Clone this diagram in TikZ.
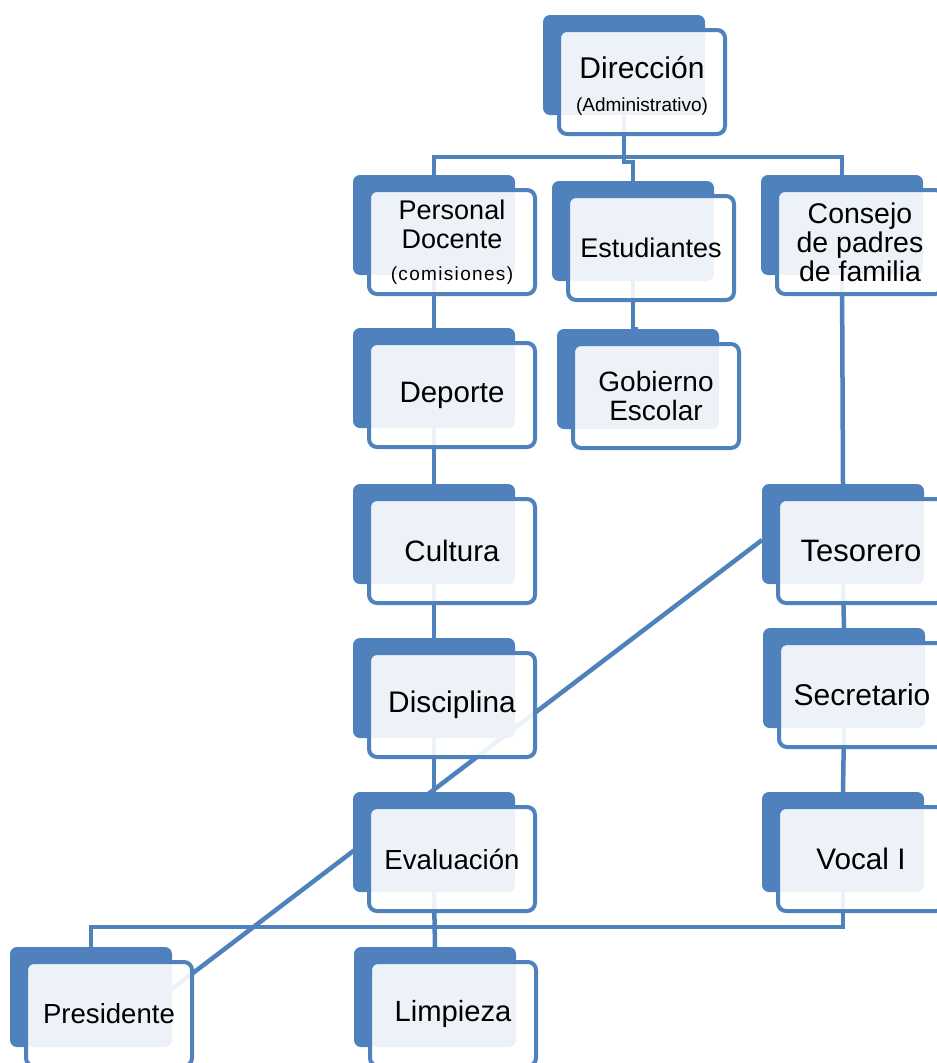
\documentclass[tikz,border=0pt]{standalone}
\usepackage{fontspec}
\setmainfont{Liberation Sans}
\usetikzlibrary{calc}
\definecolor{bl}{HTML}{4F81BD}
\pgfdeclarelayer{bg}
\pgfsetlayers{bg,main}
\newcommand\orgbox[5]{%
  \node[backbox] (#1b) at (#2,#3) {};
  \node[frontbox, font=\fontsize{#4}{29}\selectfont] (#1) at (#2+16,#3+15) {#5};}
\newcommand\smalltxt{\fontsize{19}{22}\selectfont}
\begin{document}
\begin{tikzpicture}[x=1pt,y=-1pt,
  backbox/.style={fill=bl, rounded corners=7pt, minimum width=162pt, minimum height=100pt,
    inner sep=0pt, outer sep=0pt, anchor=north west},
  frontbox/.style={draw=bl, line width=4pt, fill=white, fill opacity=0.9, text opacity=1,
    rounded corners=8pt, minimum width=166pt, minimum height=104pt, inner sep=0pt,
    outer sep=0pt, align=center, anchor=north west},
  conn/.style={draw=bl, line width=4.5pt}]
\useasboundingbox (0,0) rectangle (937,1063);

\orgbox{dir}{543}{15}{30}{\rule{0pt}{30pt}Dirección\\[4pt]{\smalltxt (Administrativo)}}
\orgbox{pd}{353}{175}{27}{Personal\\Docente\\[3pt]{\smalltxt\addfontfeatures{LetterSpace=7}(comisiones)}}
\orgbox{est}{552}{181}{27}{Estudiantes}
\orgbox{gob}{557}{329}{28}{Gobierno\\Escolar}
\orgbox{con}{761}{175}{28.5}{Consejo\\de padres\\de familia}
\orgbox{dep}{353}{328}{29.5}{Deporte}
\orgbox{cul}{353}{484}{29.5}{Cultura}
\orgbox{dis}{353}{638}{29.8}{Disciplina}
\orgbox{eva}{353}{792}{27.6}{Evaluación}
\orgbox{tes}{762}{484}{31}{Tesorero}
\orgbox{sec}{763}{628}{30}{Secretario}
\orgbox{voc}{762}{792}{29.7}{Vocal I}
\orgbox{pre}{10}{947}{27.6}{Presidente}
\orgbox{lim}{354}{947}{29.2}{Limpieza}

\begin{pgfonlayer}{bg}
  \fill[white] (0,0) rectangle (937,1063);
  \coordinate (hub) at (0,157);
  \coordinate (low) at (0,927);
  \draw[conn] (dirb.south) -- (dirb.south |- hub) -| (pdb.north);
  \draw[conn] (dirb.south) -- (dirb.south |- hub) -| (conb.north);
  \draw[conn] (dirb.south) -- ($(dirb.south |- hub)+(0,5)$) -| (estb.north);
  \draw[conn] (estb.south) -- ($(estb.south)+(0,48)$) -| (gobb.north);
  \draw[conn] (pdb.south) -- (depb.north);
  \draw[conn] (depb.south) -- (culb.north);
  \draw[conn] (culb.south) -- (disb.north);
  \draw[conn] (disb.south) -- (evab.north);
  \draw[conn] (conb.south) -- (tesb.north);
  \draw[conn] (tesb.south) -- (secb.north);
  \draw[conn] (secb.south) -- (vocb.north);
  \draw[conn] (vocb.south) -- (vocb.south |- low) -| (preb.north);
  \draw[conn] (evab.south) -- (limb.north);
  \draw[conn] ($(preb.east)+(0,-8)$) -- ($(tesb.west)+(0,6)$);
\end{pgfonlayer}
\end{tikzpicture}
\end{document}
